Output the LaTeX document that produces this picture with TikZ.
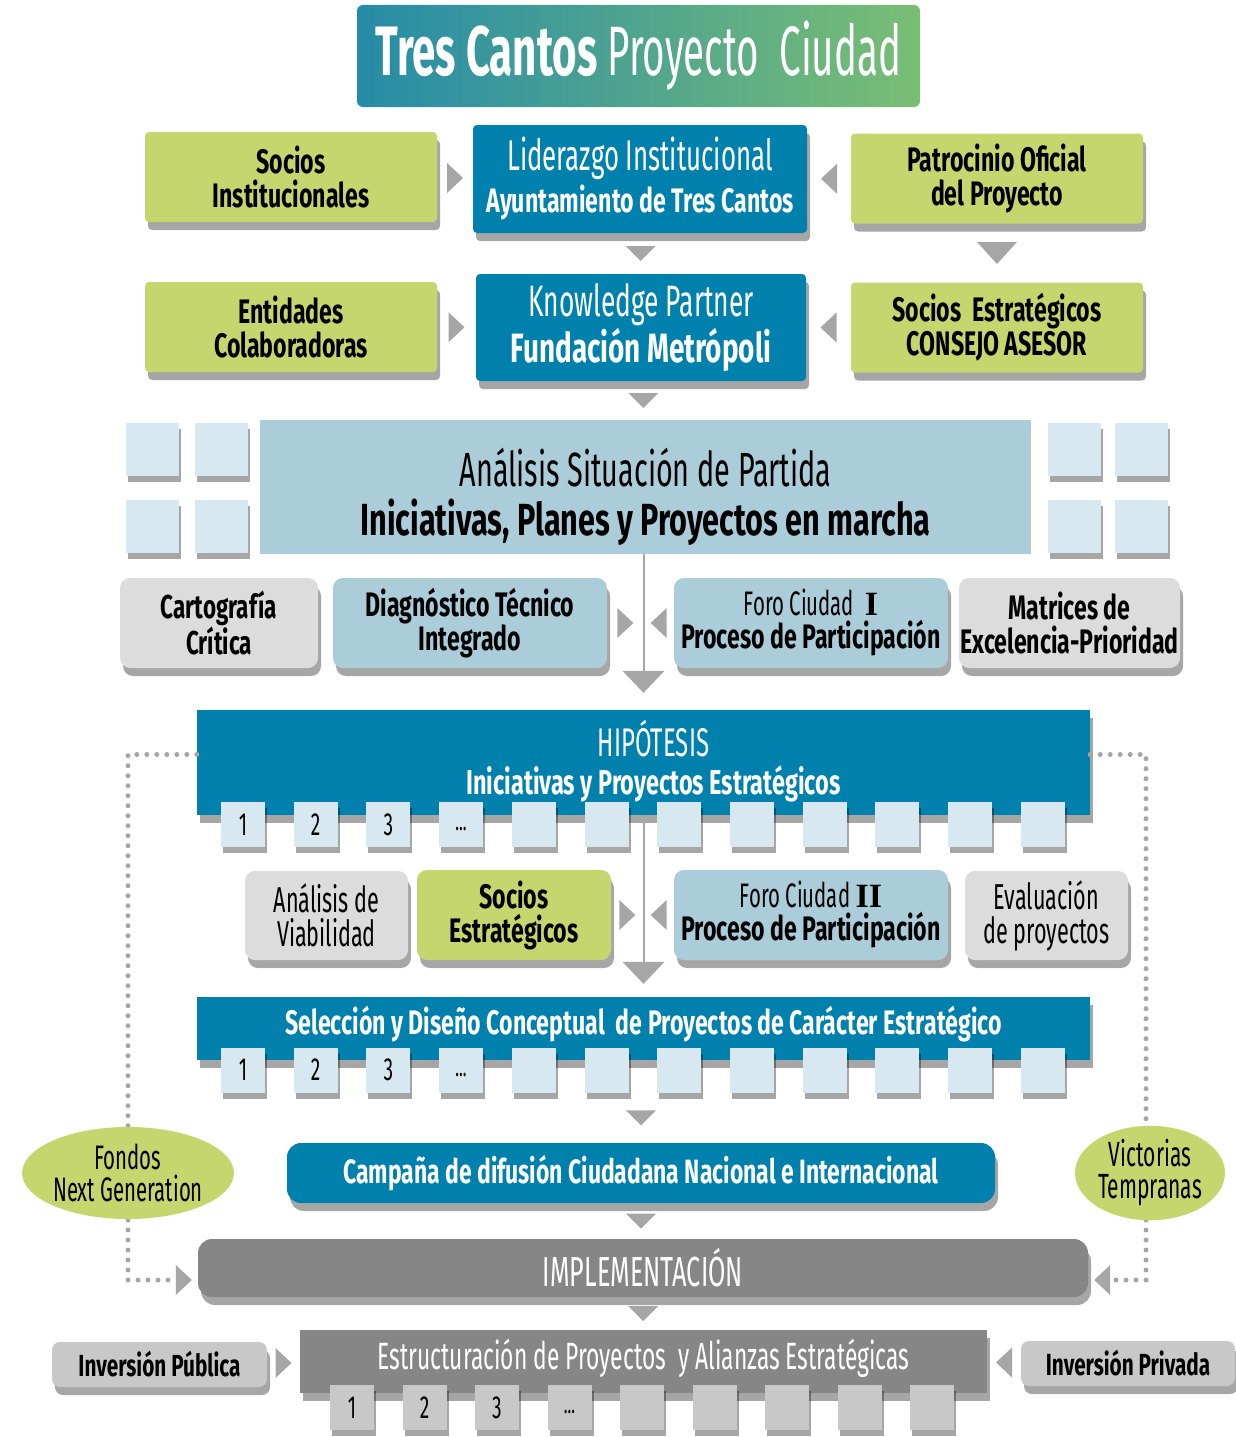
\documentclass[tikz,border=0pt]{standalone}
\usepackage{fontspec}
\setmainfont{Fira Sans}[FakeStretch=0.6, BoldFeatures={FakeStretch=0.68}]
\newfontfamily\titulofont{Fira Sans}[FakeStretch=0.55, BoldFeatures={FakeStretch=0.6}]
\newfontfamily\romfont{Liberation Serif}
\usepackage{tikz}
\usetikzlibrary{shadows,shapes.geometric,calc,arrows.meta}
\definecolor{verde}{RGB}{197,214,110}
\definecolor{azul}{RGB}{0,129,173}
\definecolor{celeste}{RGB}{171,205,217}
\definecolor{palido}{RGB}{216,232,240}
\definecolor{grisclaro}{RGB}{220,220,220}
\definecolor{grisflecha}{RGB}{166,166,166}
\definecolor{grisbarra}{RGB}{134,134,134}
\definecolor{grismedio}{RGB}{200,200,200}
\definecolor{tituloA}{RGB}{38,139,168}
\definecolor{tituloB}{RGB}{122,190,116}
\newcommand{\tam}[2]{\fontsize{#1}{#2}\selectfont}
\newcommand{\puntos}{\raisebox{-13pt}{\tam{26}{26}...}}
\newcommand{\flechaR}[1]{\fill[grisflecha] (#1) ++(-8,-15) -- ++(16,15) -- ++(-16,15) -- cycle;}
\newcommand{\flechaL}[1]{\fill[grisflecha] (#1) ++(8,-15) -- ++(-16,15) -- ++(16,15) -- cycle;}
\newcommand{\flechaD}[3]{\fill[grisflecha] (#1) ++({-#2},{-#3/2}) -- ++({2*#2},0) -- ++({-#2},#3) -- cycle;}

\begin{document}
\begin{tikzpicture}[x=1pt, y=-1pt,
  caja/.style={rectangle, rounded corners=4, align=center, inner sep=0pt,
    drop shadow={shadow xshift=3pt, shadow yshift=-8pt, opacity=.35, fill=black}},
  verdecaja/.style={caja, fill=verde, minimum width=292, minimum height=90, font=\tam{34}{34}\bfseries},
  azulcaja/.style={caja, fill=azul, text=white},
  celestecaja/.style={caja, fill=celeste, rounded corners=10, minimum width=274, minimum height=90, font=\tam{34}{33}\bfseries},
  griscaja/.style={caja, fill=grisclaro, rounded corners=10, minimum height=90, font=\tam{36}{34}},
  barra/.style={caja, rounded corners=0, fill=azul, text=white, minimum width=893},
  cuadro/.style={rectangle, fill=palido, minimum width=44, minimum height=45, inner sep=0pt, font=\tam{32}{32},
    drop shadow={shadow xshift=2pt, shadow yshift=-6pt, opacity=.35, fill=black}},
  linea/.style={draw=grisflecha, line width=2pt},
  punteado/.style={draw=grisflecha, line width=5pt, line cap=round, dash pattern=on 0pt off 10pt},
  ]
  \useasboundingbox[fill=white] (0,0) rectangle (1235,1437);

  \node[rectangle, rounded corners=6, left color=tituloA, right color=tituloB, text=white,
    minimum width=563, minimum height=102, font=\titulofont\tam{70}{70}] (titulo) at (638.5,56)
    {{\bfseries Tres Cantos} Proyecto\ \ Ciudad};

  \node[verdecaja] (socInst) at (291,177) {Socios\\Institucionales};
  \node[azulcaja, minimum width=334, minimum height=108, font=\tam{34}{42}] (lider) at (640,179)
    {{\tam{43}{42}Liderazgo Institucional}\\{\bfseries Ayuntamiento de Tres Cantos}};
  \node[verdecaja] (patro) at (997,178.5) {Patrocinio Oficial\\del Proyecto};

  \node[verdecaja] (entid) at (291,327) {Entidades\\Colaboradoras};
  \node[azulcaja, minimum width=330, minimum height=107, font=\tam{41}{46}] (know) at (641,327.5)
    {{\tam{44}{46}Knowledge Partner}\\{\bfseries Fundación Metrópoli}};
  \node[verdecaja] (sociosEst) at (997,327.5) {Socios\ \ Estratégicos\\CONSEJO ASESOR};

  \flechaR{$(socInst.east)!.5!(lider.west)$}
  \flechaL{$(lider.east)!.5!(patro.west)$}
  \flechaR{$(entid.east)!.5!(know.west)$}
  \flechaL{$(know.east)!.5!(sociosEst.west)$}
  \flechaD{$(lider.south)!.5!(know.north)$}{15}{15}
  \flechaD{$(patro.south)!.5!(sociosEst.north)$}{20}{22}

  \node[rectangle, fill=celeste, minimum width=771, minimum height=134, inner sep=0pt, align=center,
    font=\tam{45}{49}] (analisis) at (645.5,487)
    {{\tam{48}{49}\rule{0pt}{58pt}Análisis Situación de Partida}\\{\bfseries Iniciativas, Planes y Proyectos en marcha}};
  \flechaD{$(know.south)!.5!(analisis.north)$}{15}{15}
  \foreach \x [count=\i] in {152.5,221,1074,1141.5}
    \foreach \y [count=\j] in {449.5,526.5}
      \node[cuadro, minimum width=53, minimum height=53] (sq\i\j) at (\x,\y) {};

  \node[barra, minimum height=105, font=\tam{34.5}{38}, text depth=10pt] (hyp) at (643.5,762.5)
    {\hspace*{20pt}{\tam{40}{38}HIPÓTESIS}\\\hspace*{20pt}{\bfseries Iniciativas y Proyectos Estratégicos}};
  \node[barra, minimum height=63, font=\tam{34}{34}\bfseries, text depth=16pt] (sel) at (643.5,1028.5)
    {Selección y Diseño Conceptual\ \ de Proyectos de Carácter Estratégico};

  \draw[linea] (hyp.north |- analisis.south) -- ($(hyp.north)+(0,-30)$);
  \flechaD{$(hyp.north)+(0,-28)$}{21}{22}
  \draw[linea] (hyp.south) -- ($(sel.north)+(0,-30)$);
  \flechaD{$(sel.north)+(0,-24)$}{21}{22}

  \node[griscaja, minimum width=198, font=\tam{33}{34}\bfseries] (cart) at (219,623) {Cartografía\\Crítica};
  \node[celestecaja] (diag) at (470,623) {Diagnóstico Técnico\\Integrado};
  \node[celestecaja] (foroI) at (811,623)
    {{\mdseries Foro Ciudad\ \ {\romfont\bfseries I}}\\Proceso de Participación};
  \node[griscaja, minimum width=221, font=\tam{34}{34}\bfseries] (matr) at (1069.5,623)
    {Matrices de\\Excelencia-Prioridad};
  \flechaR{$(diag.east)!.5!(hyp.north |- diag.east)$}
  \flechaL{$(foroI.west)!.5!(hyp.north |- foroI.west)$}

  \foreach \t [count=\i] in {1,2,3,\puntos,{},{},{},{},{},{},{},{}}
    \node[cuadro] (h\i) at ({243+72.7*(\i-1)},824.5) {\t};

  \node[griscaja, minimum width=163, minimum height=89] (viab) at (326.5,915.5) {Análisis de\\Viabilidad};
  \node[verdecaja, rounded corners=10, minimum width=194, font=\tam{34}{34}\bfseries] (sociosDos) at (514,915)
    {Socios\\Estratégicos};
  \node[celestecaja] (foroII) at (811,915)
    {{\mdseries Foro Ciudad {\romfont\bfseries II}}\\Proceso de Participación};
  \node[griscaja, minimum width=163, minimum height=89] (eval) at (1046.5,915.5) {Evaluación\\de proyectos};
  \flechaR{$(sociosDos.east)!.5!(hyp.south |- sociosDos.east)$}
  \flechaL{$(foroII.west)!.5!(hyp.south |- foroII.west)$}

  \foreach \t [count=\i] in {1,2,3,\puntos,{},{},{},{},{},{},{},{}}
    \node[cuadro] (s\i) at ({243+72.7*(\i-1)},1070) {\t};

  \node[azulcaja, rounded corners=14, minimum width=708, minimum height=60, font=\tam{33.7}{33}\bfseries]
    (campana) at (641,1173) {Campaña de difusión Ciudadana Nacional e Internacional};
  \flechaD{$(s7.south -| campana.north)!.5!(campana.north)$}{15}{15}

  \node[caja, rounded corners=14, fill=grisbarra, text=white, minimum width=890, minimum height=58,
    font=\tam{42}{42}] (impl) at (643,1268) {IMPLEMENTACIÓN};
  \flechaD{$(campana.south)!.5!(impl.north -| campana.south)$}{15}{15}

  \node[caja, rounded corners=0, fill=grisbarra, text=white, minimum width=687, minimum height=63,
    font=\tam{38}{38}, text depth=14pt] (estr) at (643.5,1361.5)
    {Estructuración de Proyectos\ \ y Alianzas Estratégicas};
  \flechaD{$(impl.south)!.5!(estr.north)$}{15}{15}
  \foreach \t [count=\i] in {1,2,3,\puntos,{},{},{},{},{}}
    \node[cuadro, fill=grismedio] (e\i) at ({352+72.5*(\i-1)},1407.5) {\t};

  \node[caja, rounded corners=8, fill=grismedio, minimum width=215, minimum height=45,
    font=\tam{30.5}{30}\bfseries] (invPub) at (159.5,1364.5) {Inversión Pública};
  \node[caja, rounded corners=8, fill=grismedio, minimum width=214, minimum height=45,
    font=\tam{30.5}{30}\bfseries] (invPriv) at (1128,1363.5) {Inversión Privada};
  \flechaR{$(invPub.east)!.5!(estr.west)$}
  \flechaL{$(estr.east)!.5!(invPriv.west)$}

  \draw[punteado] ($(hyp.west)+(0,-8)$) -| (128,1130);
  \draw[punteado] (128,1220) |- ($(impl.west)+(-22,12)$);
  \draw[punteado] ($(hyp.east)+(0,-8)$) -| (1146,1130);
  \draw[punteado] (1146,1220) |- ($(impl.east)+(22,12)$);
  \flechaR{$(impl.west)+(-14,12)$}
  \flechaL{$(impl.east)+(14,12)$}

  \node[ellipse, fill=verde, minimum width=210, minimum height=92, inner sep=0pt, align=center,
    font=\tam{34}{32}] (fondos) at (128,1173) {Fondos\\Next Generation};
  \node[ellipse, fill=verde, minimum width=150, minimum height=92, inner sep=0pt, align=center,
    font=\tam{35}{32}] (victorias) at (1150,1173) {Victorias\\Tempranas};
\end{tikzpicture}
\end{document}
